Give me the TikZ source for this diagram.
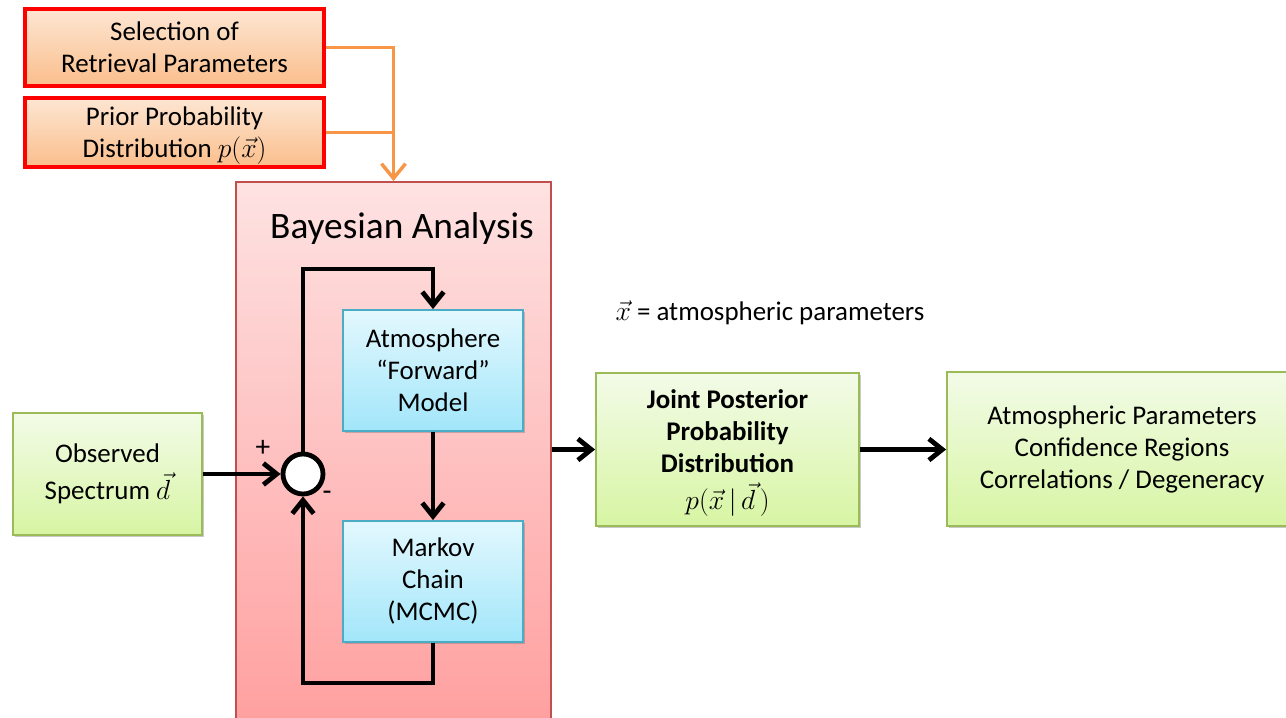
\documentclass[tikz,border=0pt]{standalone}
\usepackage{fontspec}
\setmainfont{Carlito}
\usetikzlibrary{arrows.meta,shadows,calc}
\definecolor{redb}{HTML}{FF0000}
\definecolor{orT}{HTML}{FDE6D2}
\definecolor{orB}{HTML}{FABE8C}
\definecolor{pkT}{HTML}{FEE2E2}
\definecolor{pkB}{HTML}{FF9F9F}
\definecolor{pkD}{HTML}{C0504D}
\definecolor{blT}{HTML}{E3F8FE}
\definecolor{blB}{HTML}{A2E6FA}
\definecolor{blD}{HTML}{4BACC6}
\definecolor{grT}{HTML}{F3FBE8}
\definecolor{grB}{HTML}{D7F5A3}
\definecolor{grD}{HTML}{9BBB59}
\definecolor{orL}{HTML}{F79646}
\newcommand\mymath[1]{{\fontsize{21.5}{24}\selectfont\smash{$#1$}}}
\tikzset{
  shad/.style={drop shadow={shadow xshift=1.2pt,shadow yshift=-1.8pt,opacity=0.35,fill=black!60}},
  txt/.style={font=\fontsize{20.2}{24}\selectfont, align=center, text=black},
  obox/.style={txt, shad, draw=redb, line width=3.6pt, top color=orT, bottom color=orB, inner sep=0pt},
  bbox/.style={txt, shad, draw=blD, line width=1.4pt, top color=blT, bottom color=blB, inner sep=0pt},
  gbox/.style={txt, shad, draw=grD, line width=1.4pt, top color=grT, bottom color=grB, inner sep=0pt},
  arr/.style={line width=3.6pt, draw=black, -{Straight Barb[length=10pt,width=16pt,line width=3.6pt]}},
  line/.style={line width=3.6pt, draw=black},
  oarr/.style={line width=2.6pt, draw=orL, -{Straight Barb[length=11pt,width=18pt,line width=2.6pt]}},
  oline/.style={line width=2.6pt, draw=orL},
}
\begin{document}
\begin{tikzpicture}[x=0.75pt,y=-0.75pt]
\useasboundingbox[fill=white] (0,0) rectangle (1286,718);
% Bayesian box
\node[draw=pkD, line width=1.4pt, top color=pkT, bottom color=pkB, minimum width=236.25pt, minimum height=409.5pt, inner sep=0pt] (bay) at (393.5,455) {};
\node[font=\fontsize{28}{30}\selectfont] (title) at (402,229) {Bayesian Analysis};
% top boxes
\node[obox, minimum width=224.25pt, minimum height=57.75pt] (sel) at (174.5,47.5) {Selection of\\Retrieval Parameters};
\node[obox, minimum width=224.25pt, minimum height=51.75pt] (prior) at (174.5,132.5) {Prior Probability\\Distribution \mymath{p(\vec{x})}};
% inner boxes
\node[bbox, minimum width=135pt, minimum height=90.75pt] (atm) at (433,370.5) {Atmosphere\\``Forward''\\Model};
\node[bbox, minimum width=135pt, minimum height=90.75pt] (mc) at (433,581.5) {Markov\\Chain\\(MCMC)};
\node[circle, draw=black, fill=white, line width=3.6pt, minimum size=30pt, inner sep=0pt] (sum) at (303,474) {};
% green boxes
\node[gbox, minimum width=141.75pt, minimum height=91.5pt] (obs) at (107.5,474) {Observed\\[4pt]Spectrum \mymath{\vec{d}}};
\node[gbox, minimum width=197.25pt, minimum height=114.75pt] (joint) at (727.5,449.5) {\bfseries Joint Posterior\\\bfseries Probability\\\bfseries Distribution\\[4pt]\mymath{p\bigl(\vec{x}\,|\,\vec{d}\,\bigr)}};
\node[gbox, minimum width=262.5pt, minimum height=115.5pt] (final) at (1122,449) {Atmospheric Parameters\\Confidence Regions\\Correlations / Degeneracy};
% labels
\node[txt] (xdef) at (770,313) {\mymath{\vec{x}} = atmospheric parameters};
\node[font=\fontsize{22}{24}\selectfont] (plus) at (263,448) {+};
\node[font=\fontsize{22}{24}\selectfont] (minus) at (327,496) {-};
% connectors
\coordinate (looptop) at (433,269);
\coordinate (loopbot) at (433,683);
\draw[arr] (sum.north) |- (looptop) -- (atm.north);
\draw[arr] (atm.south) -- (mc.north);
\draw[arr] (mc.south) -- (loopbot) -| (sum.south);
\draw[arr] (obs.east) -- (sum.west);
\draw[arr] (bay.east |- joint.west) -- (joint.west);
\draw[arr] (joint.east) -- (final.west |- joint.east);
\draw[oline] (prior.east) -- (prior.east -| bay.north);
\draw[oarr] (sel.east) -| (bay.north);
\end{tikzpicture}
\end{document}
